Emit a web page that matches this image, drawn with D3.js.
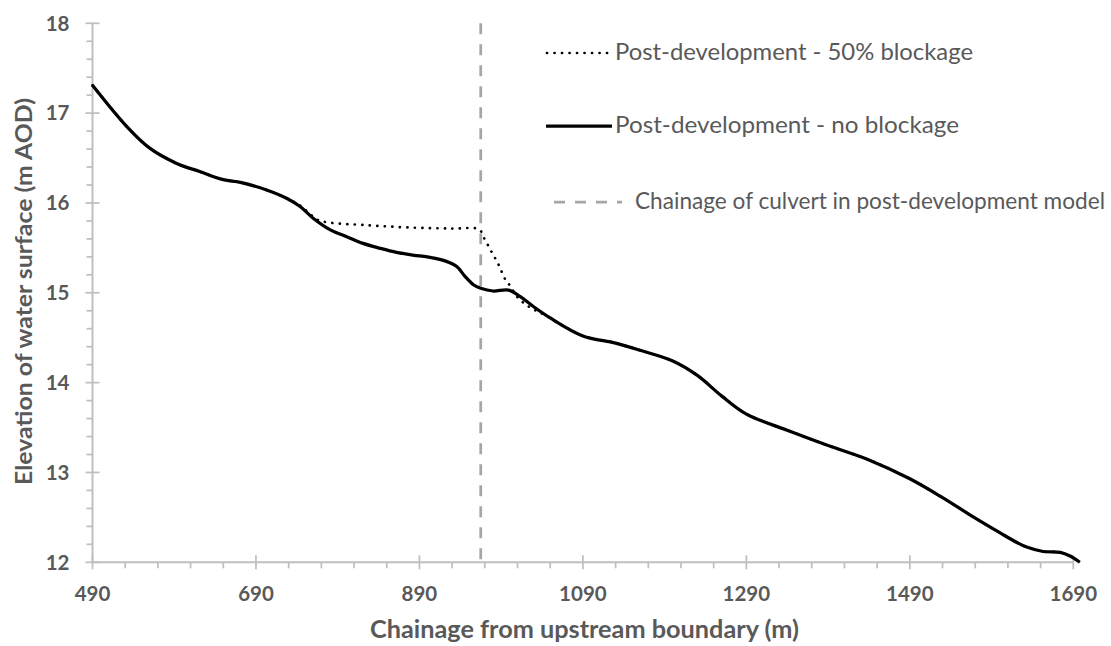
<!DOCTYPE html>
<html>
<head>
<meta charset="utf-8">
<script src="https://cdn.jsdelivr.net/npm/d3@7"></script>
<style>
  html, body { margin: 0; padding: 0; background: #fff; }
  svg { display: block; }
  text { font-family: Lato, "Open Sans", sans-serif; }
</style>
</head>
<body>
<svg id="chart" width="1111" height="646"></svg>
<script>
// Water surface profile along the watercourse (chainage in m, elevation in m AOD)
const chainageNoBlock = [490, 532, 560, 593, 621, 650, 671, 703, 728, 744, 760, 781, 801, 821, 842, 862, 882, 903, 923, 936, 946, 956, 965, 980, 999, 1013, 1029, 1050, 1090, 1130, 1160, 1200, 1230, 1260, 1290, 1340, 1390, 1440, 1490, 1530, 1565, 1600, 1621, 1633, 1653, 1674, 1686, 1698];
const elevNoBlock    = [17.31, 16.85, 16.61, 16.44, 16.35, 16.26, 16.23, 16.145, 16.05, 15.96, 15.83, 15.70, 15.625, 15.55, 15.495, 15.45, 15.42, 15.395, 15.35, 15.29, 15.18, 15.09, 15.05, 15.02, 15.03, 14.96, 14.85, 14.72, 14.52, 14.44, 14.36, 14.24, 14.08, 13.85, 13.65, 13.47, 13.30, 13.14, 12.93, 12.72, 12.52, 12.33, 12.22, 12.17, 12.12, 12.11, 12.07, 12.00];

const chainageBlock  = [490, 532, 560, 593, 621, 650, 671, 703, 728, 744, 752, 766, 781, 821, 882, 930, 963, 969, 978, 987, 995, 1000, 1011, 1025, 1046, 1090, 1130, 1160, 1200, 1230, 1260, 1290, 1340, 1390, 1440, 1490, 1530, 1565, 1600, 1621, 1633, 1653, 1674, 1686, 1698];
const elevBlock      = [17.31, 16.85, 16.61, 16.44, 16.35, 16.26, 16.23, 16.145, 16.05, 15.97, 15.91, 15.81, 15.78, 15.755, 15.725, 15.715, 15.705, 15.61, 15.46, 15.31, 15.15, 15.09, 14.94, 14.84, 14.74, 14.52, 14.44, 14.36, 14.24, 14.08, 13.85, 13.65, 13.47, 13.30, 13.14, 12.93, 12.72, 12.52, 12.33, 12.22, 12.17, 12.12, 12.11, 12.07, 12.00];

const culvertChainage = 965;

const xTickValues = [490, 690, 890, 1090, 1290, 1490, 1690];
const yTickValues = [12, 13, 14, 15, 16, 17, 18];

const legendLabels = [
  "Post-development - 50% blockage",
  "Post-development - no blockage",
  "Chainage of culvert in post-development model"
];

const svg = d3.select("#chart");
const plot = { left: 92.5, right: 1073.3, top: 23.3, bottom: 562.3 };

const x = d3.scaleLinear().domain([490, 1690]).range([plot.left, plot.right]);
const y = d3.scaleLinear().domain([12, 18]).range([plot.bottom, plot.top]);

const axisColor = "#bfbfbf";
const textColor = "#595959";

// minor ticks every 40 m and 0.2 m
const xMinor = d3.range(490, 1690 + 1, 40).filter(v => !xTickValues.includes(v));
const yMinor = d3.range(12, 18.001, 0.2).map(v => +v.toFixed(1)).filter(v => !yTickValues.includes(v));

const axes = svg.append("g");

axes.selectAll(".xminor").data(xMinor).enter().append("line")
  .attr("x1", d => x(d)).attr("x2", d => x(d))
  .attr("y1", plot.bottom).attr("y2", plot.bottom + 6)
  .attr("stroke", axisColor).attr("stroke-width", 1.75);

axes.selectAll(".xmajor").data(xTickValues).enter().append("line")
  .attr("x1", d => x(d)).attr("x2", d => x(d))
  .attr("y1", plot.bottom - 7).attr("y2", plot.bottom + 7)
  .attr("stroke", axisColor).attr("stroke-width", 1.75);

axes.selectAll(".yminor").data(yMinor).enter().append("line")
  .attr("x1", plot.left - 6).attr("x2", plot.left)
  .attr("y1", d => y(d)).attr("y2", d => y(d))
  .attr("stroke", axisColor).attr("stroke-width", 1.75);

axes.selectAll(".ymajor").data(yTickValues).enter().append("line")
  .attr("x1", plot.left - 7).attr("x2", plot.left + 7)
  .attr("y1", d => y(d)).attr("y2", d => y(d))
  .attr("stroke", axisColor).attr("stroke-width", 1.75);

axes.append("line")
  .attr("x1", plot.left).attr("x2", plot.right)
  .attr("y1", plot.bottom).attr("y2", plot.bottom)
  .attr("stroke", axisColor).attr("stroke-width", 2);
axes.append("line")
  .attr("x1", plot.left).attr("x2", plot.left)
  .attr("y1", plot.top).attr("y2", plot.bottom)
  .attr("stroke", axisColor).attr("stroke-width", 2);

// tick labels
axes.selectAll(".xlab").data(xTickValues).enter().append("text")
  .attr("x", d => x(d)).attr("y", 601)
  .attr("text-anchor", "middle")
  .attr("font-size", 20.5).attr("font-weight", "bold").attr("fill", textColor)
  .text(d => d);

axes.selectAll(".ylab").data(yTickValues).enter().append("text")
  .attr("x", 69.5).attr("y", d => y(d) + 7.3)
  .attr("text-anchor", "end")
  .attr("font-size", 20.5).attr("font-weight", "bold").attr("fill", textColor)
  .text(d => d);

// axis titles
svg.append("text")
  .attr("x", 370).attr("y", 638)
  .attr("textLength", 429).attr("lengthAdjust", "spacingAndGlyphs")
  .attr("font-size", 24).attr("font-weight", "bold").attr("fill", textColor)
  .text("Chainage from upstream boundary (m)");

svg.append("text")
  .attr("transform", "translate(31.5,485) rotate(-90)")
  .attr("textLength", 387).attr("lengthAdjust", "spacingAndGlyphs")
  .attr("font-size", 23.5).attr("font-weight", "bold").attr("fill", textColor)
  .text("Elevation of water surface (m AOD)");

// culvert location
svg.append("line")
  .attr("x1", x(culvertChainage)).attr("x2", x(culvertChainage))
  .attr("y1", plot.top).attr("y2", plot.bottom)
  .attr("stroke", "#a6a6a6").attr("stroke-width", 2.75)
  .attr("stroke-dasharray", "11,10");

const line = d3.line()
  .x(d => x(d[0])).y(d => y(d[1]))
  .curve(d3.curveCatmullRom.alpha(0.5));

const blockData = chainageBlock.map((c, i) => [c, elevBlock[i]]);
const noBlockData = chainageNoBlock.map((c, i) => [c, elevNoBlock[i]]);

svg.append("path")
  .attr("d", line(blockData))
  .attr("fill", "none").attr("stroke", "#000").attr("stroke-width", 2.7)
  .attr("stroke-linecap", "round")
  .attr("stroke-dasharray", "0.1,7.4");

svg.append("path")
  .attr("d", line(noBlockData))
  .attr("fill", "none").attr("stroke", "#000").attr("stroke-width", 3.25);

// legend
const legend = svg.append("g");
legend.append("line")
  .attr("x1", 547).attr("x2", 612).attr("y1", 53).attr("y2", 53)
  .attr("stroke", "#000").attr("stroke-width", 2.7)
  .attr("stroke-linecap", "round").attr("stroke-dasharray", "0.1,7.4");
legend.append("line")
  .attr("x1", 546).attr("x2", 612).attr("y1", 126).attr("y2", 126)
  .attr("stroke", "#000").attr("stroke-width", 3.25);
legend.append("line")
  .attr("x1", 554).attr("x2", 622).attr("y1", 202).attr("y2", 202)
  .attr("stroke", "#a6a6a6").attr("stroke-width", 2.75)
  .attr("stroke-dasharray", "11,10");

const legendPos = [[615, 60], [615, 133], [635, 209]];
const legendWidths = [358, 344, 470];
legend.selectAll(".lt").data(legendLabels).enter().append("text")
  .attr("x", (d, i) => legendPos[i][0]).attr("y", (d, i) => legendPos[i][1])
  .attr("textLength", (d, i) => legendWidths[i]).attr("lengthAdjust", "spacingAndGlyphs")
  .attr("font-size", 22.5).attr("fill", textColor)
  .text(d => d);
</script>
</body>
</html>
